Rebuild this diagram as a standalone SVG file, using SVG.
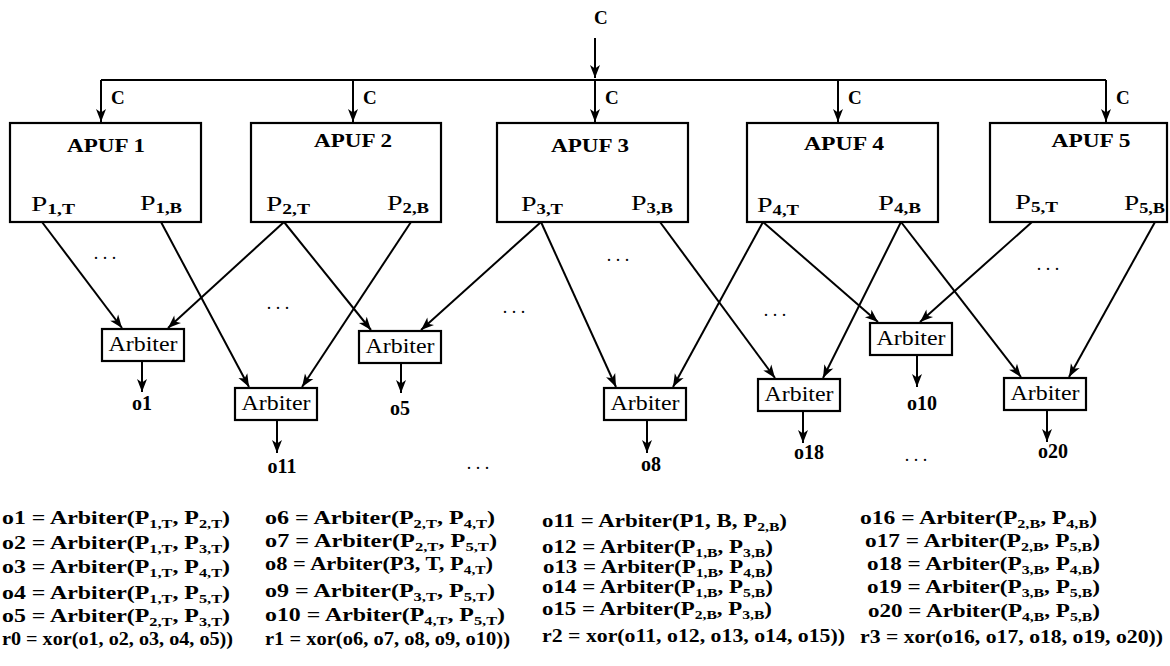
<svg xmlns="http://www.w3.org/2000/svg" width="1170" height="666" viewBox="0 0 1170 666">
<style>
text{font-family:"Liberation Serif","Times New Roman",serif;fill:#000}
.lbl{font-weight:bold;font-size:19px}
.ttl{font-weight:bold;font-size:19px;text-anchor:middle}
.arb{font-family:"Liberation Serif","Times New Roman",serif;font-size:20px;text-anchor:middle}
.out{font-weight:bold;font-size:20px;text-anchor:middle}
.pl{font-size:21px}
.ps{font-size:14px;font-weight:bold}
.eq{font-weight:bold;font-size:19px}
.s{font-size:13px}
.dots{font-size:18px;text-anchor:middle}
.box{fill:#fff;stroke:#000;stroke-width:2.2}
.ln{fill:none;stroke:#000;stroke-width:2}
</style>
<defs>
<marker id="ah" viewBox="-14 -6 15 12" refX="0" refY="0" markerWidth="15" markerHeight="12" markerUnits="userSpaceOnUse" orient="auto">
<path d="M0,0 L-13,-5 L-9.5,0 L-13,5 Z" fill="#000"/>
</marker>
</defs>

<g id="connectors">
<path class="ln" d="M595,38 V78" marker-end="url(#ah)"/>
<path class="ln" d="M101,80 H1106"/>
<path class="ln" d="M101,80 V122" marker-end="url(#ah)"/>
<path class="ln" d="M353,80 V122" marker-end="url(#ah)"/>
<path class="ln" d="M595,80 V122" marker-end="url(#ah)"/>
<path class="ln" d="M838,80 V122" marker-end="url(#ah)"/>
<path class="ln" d="M1106,80 V122" marker-end="url(#ah)"/>
<path class="ln" d="M42,222 L122,328" marker-end="url(#ah)"/>
<path class="ln" d="M284,222 L168,328" marker-end="url(#ah)"/>
<path class="ln" d="M161,222 L249,387" marker-end="url(#ah)"/>
<path class="ln" d="M411,222 L302,387" marker-end="url(#ah)"/>
<path class="ln" d="M284,222 L371,330" marker-end="url(#ah)"/>
<path class="ln" d="M541,222 L421,330" marker-end="url(#ah)"/>
<path class="ln" d="M541,222 L616,387" marker-end="url(#ah)"/>
<path class="ln" d="M763,222 L673,387" marker-end="url(#ah)"/>
<path class="ln" d="M660,222 L775,378" marker-end="url(#ah)"/>
<path class="ln" d="M901,222 L823,378" marker-end="url(#ah)"/>
<path class="ln" d="M763,222 L878,322" marker-end="url(#ah)"/>
<path class="ln" d="M1032,222 L920,322" marker-end="url(#ah)"/>
<path class="ln" d="M901,222 L1021,377" marker-end="url(#ah)"/>
<path class="ln" d="M1155,222 L1069,377" marker-end="url(#ah)"/>
<path class="ln" d="M142,361 V392" marker-end="url(#ah)"/>
<path class="ln" d="M277,420 V453" marker-end="url(#ah)"/>
<path class="ln" d="M401,363 V393" marker-end="url(#ah)"/>
<path class="ln" d="M647,420 V453" marker-end="url(#ah)"/>
<path class="ln" d="M803,411 V443" marker-end="url(#ah)"/>
<path class="ln" d="M917,355 V387" marker-end="url(#ah)"/>
<path class="ln" d="M1047,410 V442" marker-end="url(#ah)"/>
</g>

<g id="labels-c">
<text class="lbl" x="594" y="24">C</text>
<text class="lbl" x="111" y="104">C</text>
<text class="lbl" x="363" y="104">C</text>
<text class="lbl" x="605" y="104">C</text>
<text class="lbl" x="848" y="104">C</text>
<text class="lbl" x="1116" y="104">C</text>
</g>

<g id="apuf1">
<rect class="box" x="10" y="123" width="191" height="99"/>
<text class="ttl" x="106" y="152" textLength="78" lengthAdjust="spacingAndGlyphs">APUF 1</text>
<text class="pl" x="31" y="211" textLength="44" lengthAdjust="spacingAndGlyphs">P<tspan class="ps" dy="3">1,T</tspan></text>
<text class="pl" x="140" y="210" textLength="42" lengthAdjust="spacingAndGlyphs">P<tspan class="ps" dy="3">1,B</tspan></text>
</g>
<g id="apuf2">
<rect class="box" x="251" y="123" width="190" height="99"/>
<text class="ttl" x="353" y="147" textLength="78" lengthAdjust="spacingAndGlyphs">APUF 2</text>
<text class="pl" x="266" y="211" textLength="44" lengthAdjust="spacingAndGlyphs">P<tspan class="ps" dy="3">2,T</tspan></text>
<text class="pl" x="387" y="210" textLength="42" lengthAdjust="spacingAndGlyphs">P<tspan class="ps" dy="3">2,B</tspan></text>
</g>
<g id="apuf3">
<rect class="box" x="497" y="123" width="191" height="99"/>
<text class="ttl" x="590" y="152" textLength="78" lengthAdjust="spacingAndGlyphs">APUF 3</text>
<text class="pl" x="521" y="211" textLength="42" lengthAdjust="spacingAndGlyphs">P<tspan class="ps" dy="3">3,T</tspan></text>
<text class="pl" x="631" y="210" textLength="42" lengthAdjust="spacingAndGlyphs">P<tspan class="ps" dy="3">3,B</tspan></text>
</g>
<g id="apuf4">
<rect class="box" x="747" y="123" width="191" height="99"/>
<text class="ttl" x="844" y="150" textLength="80" lengthAdjust="spacingAndGlyphs">APUF 4</text>
<text class="pl" x="757" y="212" textLength="42" lengthAdjust="spacingAndGlyphs">P<tspan class="ps" dy="3">4,T</tspan></text>
<text class="pl" x="878" y="210" textLength="43" lengthAdjust="spacingAndGlyphs">P<tspan class="ps" dy="3">4,B</tspan></text>
</g>
<g id="apuf5">
<rect class="box" x="990" y="123" width="177" height="99"/>
<text class="ttl" x="1091" y="147" textLength="79" lengthAdjust="spacingAndGlyphs">APUF 5</text>
<text class="pl" x="1015" y="209" textLength="43" lengthAdjust="spacingAndGlyphs">P<tspan class="ps" dy="3">5,T</tspan></text>
<text class="pl" x="1124" y="210" textLength="41" lengthAdjust="spacingAndGlyphs">P<tspan class="ps" dy="3">5,B</tspan></text>
</g>

<g id="arb-o1"><rect class="box" x="102" y="329" width="82" height="32"/><text class="arb" x="143" y="351" textLength="69" lengthAdjust="spacingAndGlyphs">Arbiter</text></g>
<g id="arb-o11"><rect class="box" x="235" y="388" width="82" height="32"/><text class="arb" x="276" y="410" textLength="69" lengthAdjust="spacingAndGlyphs">Arbiter</text></g>
<g id="arb-o5"><rect class="box" x="359" y="331" width="82" height="32"/><text class="arb" x="400" y="353" textLength="69" lengthAdjust="spacingAndGlyphs">Arbiter</text></g>
<g id="arb-o8"><rect class="box" x="604" y="388" width="82" height="32"/><text class="arb" x="645" y="410" textLength="69" lengthAdjust="spacingAndGlyphs">Arbiter</text></g>
<g id="arb-o18"><rect class="box" x="758" y="379" width="82" height="32"/><text class="arb" x="799" y="401" textLength="69" lengthAdjust="spacingAndGlyphs">Arbiter</text></g>
<g id="arb-o10"><rect class="box" x="870" y="323" width="82" height="32"/><text class="arb" x="911" y="345" textLength="69" lengthAdjust="spacingAndGlyphs">Arbiter</text></g>
<g id="arb-o20"><rect class="box" x="1004" y="378" width="82" height="32"/><text class="arb" x="1045" y="400" textLength="69" lengthAdjust="spacingAndGlyphs">Arbiter</text></g>

<g id="outputs">
<text class="out" x="142" y="410">o1</text>
<text class="out" x="282" y="473">o11</text>
<text class="out" x="400" y="415">o5</text>
<text class="out" x="651" y="471">o8</text>
<text class="out" x="809" y="459">o18</text>
<text class="out" x="922" y="410">o10</text>
<text class="out" x="1053" y="458">o20</text>
</g>

<g id="dots">
<text class="dots" x="105" y="259">. . .</text>
<text class="dots" x="278" y="309">. . .</text>
<text class="dots" x="514" y="313">. . .</text>
<text class="dots" x="478" y="469">. . .</text>
<text class="dots" x="618" y="261">. . .</text>
<text class="dots" x="775" y="316">. . .</text>
<text class="dots" x="1048" y="270">. . .</text>
<text class="dots" x="916" y="461">. . .</text>
</g>

<g id="equations">
<text class="eq" x="2" y="524" textLength="228" lengthAdjust="spacingAndGlyphs">o1 = Arbiter(P<tspan class="s" dy="4">1,T</tspan><tspan dy="-4">, P</tspan><tspan class="s" dy="4">2,T</tspan><tspan dy="-4">)</tspan></text>
<text class="eq" x="2" y="549" textLength="228" lengthAdjust="spacingAndGlyphs">o2 = Arbiter(P<tspan class="s" dy="4">1,T</tspan><tspan dy="-4">, P</tspan><tspan class="s" dy="4">3,T</tspan><tspan dy="-4">)</tspan></text>
<text class="eq" x="2" y="573" textLength="228" lengthAdjust="spacingAndGlyphs">o3 = Arbiter(P<tspan class="s" dy="4">1,T</tspan><tspan dy="-4">, P</tspan><tspan class="s" dy="4">4,T</tspan><tspan dy="-4">)</tspan></text>
<text class="eq" x="2" y="599" textLength="228" lengthAdjust="spacingAndGlyphs">o4 = Arbiter(P<tspan class="s" dy="4">1,T</tspan><tspan dy="-4">, P</tspan><tspan class="s" dy="4">5,T</tspan><tspan dy="-4">)</tspan></text>
<text class="eq" x="2" y="622" textLength="228" lengthAdjust="spacingAndGlyphs">o5 = Arbiter(P<tspan class="s" dy="4">2,T</tspan><tspan dy="-4">, P</tspan><tspan class="s" dy="4">3,T</tspan><tspan dy="-4">)</tspan></text>
<text class="eq" x="2" y="645" textLength="231" lengthAdjust="spacingAndGlyphs">r0 = xor(o1, o2, o3, o4, o5))</text>

<text class="eq" x="265" y="524" textLength="230" lengthAdjust="spacingAndGlyphs">o6 = Arbiter(P<tspan class="s" dy="4">2,T</tspan><tspan dy="-4">, P</tspan><tspan class="s" dy="4">4,T</tspan><tspan dy="-4">)</tspan></text>
<text class="eq" x="265" y="547" textLength="232" lengthAdjust="spacingAndGlyphs">o7 = Arbiter(P<tspan class="s" dy="4">2,T</tspan><tspan dy="-4">, P</tspan><tspan class="s" dy="4">5,T</tspan><tspan dy="-4">)</tspan></text>
<text class="eq" x="265" y="570" textLength="228" lengthAdjust="spacingAndGlyphs">o8 = Arbiter(P3, T, P<tspan class="s" dy="4">4,T</tspan><tspan dy="-4">)</tspan></text>
<text class="eq" x="265" y="597" textLength="230" lengthAdjust="spacingAndGlyphs">o9 = Arbiter(P<tspan class="s" dy="4">3,T</tspan><tspan dy="-4">, P</tspan><tspan class="s" dy="4">5,T</tspan><tspan dy="-4">)</tspan></text>
<text class="eq" x="265" y="621" textLength="240" lengthAdjust="spacingAndGlyphs">o10 = Arbiter(P<tspan class="s" dy="4">4,T</tspan><tspan dy="-4">, P</tspan><tspan class="s" dy="4">5,T</tspan><tspan dy="-4">)</tspan></text>
<text class="eq" x="265" y="645" textLength="245" lengthAdjust="spacingAndGlyphs">r1 = xor(o6, o7, o8, o9, o10))</text>

<text class="eq" x="542" y="527" textLength="245" lengthAdjust="spacingAndGlyphs">o11 = Arbiter(P1, B, P<tspan class="s" dy="4">2,B</tspan><tspan dy="-4">)</tspan></text>
<text class="eq" x="542" y="553" textLength="231" lengthAdjust="spacingAndGlyphs">o12 = Arbiter(P<tspan class="s" dy="4">1,B</tspan><tspan dy="-4">, P</tspan><tspan class="s" dy="4">3,B</tspan><tspan dy="-4">)</tspan></text>
<text class="eq" x="543" y="573" textLength="230" lengthAdjust="spacingAndGlyphs">o13 = Arbiter(P<tspan class="s" dy="4">1,B</tspan><tspan dy="-4">, P</tspan><tspan class="s" dy="4">4,B</tspan><tspan dy="-4">)</tspan></text>
<text class="eq" x="542" y="593" textLength="231" lengthAdjust="spacingAndGlyphs">o14 = Arbiter(P<tspan class="s" dy="4">1,B</tspan><tspan dy="-4">, P</tspan><tspan class="s" dy="4">5,B</tspan><tspan dy="-4">)</tspan></text>
<text class="eq" x="542" y="615" textLength="230" lengthAdjust="spacingAndGlyphs">o15 = Arbiter(P<tspan class="s" dy="4">2,B</tspan><tspan dy="-4">, P</tspan><tspan class="s" dy="4">3,B</tspan><tspan dy="-4">)</tspan></text>
<text class="eq" x="542" y="642" textLength="303" lengthAdjust="spacingAndGlyphs">r2 = xor(o11, o12, o13, o14, o15))</text>

<text class="eq" x="860" y="524" textLength="237" lengthAdjust="spacingAndGlyphs">o16 = Arbiter(P<tspan class="s" dy="4">2,B</tspan><tspan dy="-4">, P</tspan><tspan class="s" dy="4">4,B</tspan><tspan dy="-4">)</tspan></text>
<text class="eq" x="865" y="547" textLength="235" lengthAdjust="spacingAndGlyphs">o17 = Arbiter(P<tspan class="s" dy="4">2,B</tspan><tspan dy="-4">, P</tspan><tspan class="s" dy="4">5,B</tspan><tspan dy="-4">)</tspan></text>
<text class="eq" x="867" y="570" textLength="233" lengthAdjust="spacingAndGlyphs">o18 = Arbiter(P<tspan class="s" dy="4">3,B</tspan><tspan dy="-4">, P</tspan><tspan class="s" dy="4">4,B</tspan><tspan dy="-4">)</tspan></text>
<text class="eq" x="867" y="593" textLength="233" lengthAdjust="spacingAndGlyphs">o19 = Arbiter(P<tspan class="s" dy="4">3,B</tspan><tspan dy="-4">, P</tspan><tspan class="s" dy="4">5,B</tspan><tspan dy="-4">)</tspan></text>
<text class="eq" x="868" y="617" textLength="232" lengthAdjust="spacingAndGlyphs">o20 = Arbiter(P<tspan class="s" dy="4">4,B</tspan><tspan dy="-4">, P</tspan><tspan class="s" dy="4">5,B</tspan><tspan dy="-4">)</tspan></text>
<text class="eq" x="860" y="643" textLength="303" lengthAdjust="spacingAndGlyphs">r3 = xor(o16, o17, o18, o19, o20))</text>
</g>
</svg>
